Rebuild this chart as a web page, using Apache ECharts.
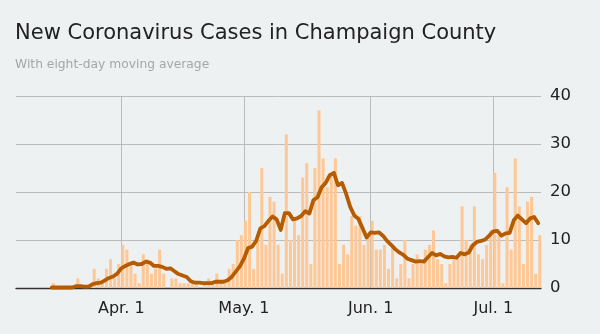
<!DOCTYPE html>
<html><head><meta charset="utf-8">
<script src="https://cdn.jsdelivr.net/npm/echarts@6/dist/echarts.min.js"></script>
<style>html,body{margin:0;padding:0;background:#eef1f2}#c{width:600px;height:334px}</style>
</head><body><div id="c"></div>
<script>
// Daily new cases, starting at firstDate (one value per day)
const firstDate = '2020-03-15';
const cases = [
  1,0,0,0,0,0,2,0,0,0,
  4,2,1,4,6,2,5,9,8,5,
  3,1,7,6,3,4,8,3,0,2,
  2,1,1,1,1,1,0,1,2,1,
  3,1,1,4,5,10,11,14,20,4,
  10,25,9,19,18,9,3,32,10,14,
  11,23,26,5,25,37,27,21,24,27,
  5,9,7,15,13,15,9,11,14,8,
  8,9,4,9,2,5,10,2,5,7,
  5,8,9,12,6,5,1,5,6,6,
  17,10,9,17,7,6,9,12,24,11,
  1,21,8,27,17,5,18,19,3,11
];
// Eight-day moving average
const movingAvg = [
  0.1,0.1,0.1,0.1,0.1,0.1,0.4,0.4,0.3,0.3,
  0.8,1.0,1.1,1.6,2.1,2.4,3.0,4.1,4.6,5.0,
  5.3,4.9,5.0,5.5,5.3,4.6,4.6,4.4,4.0,4.1,
  3.5,2.9,2.6,2.3,1.4,1.1,1.1,1.0,1.0,1.0,
  1.3,1.3,1.3,1.6,2.3,3.4,4.5,6.1,8.3,8.6,
  9.8,12.4,12.9,14.0,14.9,14.3,12.1,15.6,15.6,14.3,
  14.5,15.0,16.0,15.5,18.3,18.9,21.0,21.9,23.5,24.0,
  21.4,21.9,19.6,16.9,15.1,14.4,12.5,10.5,11.6,11.5,
  11.6,10.9,9.8,9.0,8.1,7.4,6.9,6.1,5.8,5.5,
  5.6,5.5,6.4,7.3,6.8,7.1,6.6,6.4,6.5,6.3,
  7.3,7.0,7.4,8.9,9.6,9.8,10.1,10.9,11.8,11.9,
  10.9,11.4,11.5,14.1,15.1,14.3,13.5,14.5,14.8,13.5
];
const tickDates = ['2020-04-01','2020-05-01','2020-06-01','2020-07-01'];
const tickLabels = ['Apr. 1','May. 1','Jun. 1','Jul. 1'];
const rangeDates = ['2020-03-06','2020-07-13'];

const DAY = 86400000;
const origin = Date.UTC(2020, 2, 1);
function dayIndex(s) { const p = s.split('-').map(Number); return (Date.UTC(p[0], p[1]-1, p[2]) - origin) / DAY; }
const start = dayIndex(firstDate);
const tickDays = tickDates.map(dayIndex);
const barData = cases.map((v, i) => [start + i + 0.37, v]);
const lineData = movingAvg.map((v, i) => [start + i, v]);

const FONT = 'DejaVu Sans';
const chart = echarts.init(document.getElementById('c'), null, {renderer: 'canvas'});
chart.setOption({
  backgroundColor: '#eef1f2',
  animation: false,
  title: [
    {text: 'New Coronavirus Cases in Champaign County', left: 15, top: 23, padding: 0,
     textStyle: {fontFamily: FONT, fontSize: 21, fontWeight: 'normal', color: '#222'}},
    {text: 'With eight-day moving average', left: 15, top: 59, padding: 0,
     textStyle: {fontFamily: FONT, fontSize: 12.3, fontWeight: 'normal', color: '#a6a6a6'}}
  ],
  grid: {left: 16, right: 59, top: 96, bottom: 46},
  xAxis: {
    type: 'value',
    min: dayIndex(rangeDates[0]) + 0.24,
    max: dayIndex(rangeDates[1]) - 0.33,
    axisLine: {show: true, onZero: true, lineStyle: {color: '#333', width: 1.3}},
    axisTick: {show: false, customValues: tickDays},
    axisLabel: {customValues: tickDays, margin: 13, fontFamily: FONT, fontSize: 16, color: '#222',
      formatter: v => tickLabels[tickDays.indexOf(v)] || ''},
    splitLine: {show: true, lineStyle: {color: '#bbbbbb', width: 1}}
  },
  yAxis: {
    type: 'value', position: 'right', min: 0, max: 40, interval: 10,
    axisLine: {show: false}, axisTick: {show: false},
    axisLabel: {margin: 9, fontFamily: FONT, fontSize: 16.5, color: '#222'},
    splitLine: {show: true, lineStyle: {color: '#bbbbbb', width: 1}}
  },
  series: [
    {type: 'bar', data: barData, barWidth: 3, itemStyle: {color: '#fdc896'}, z: 2},
    {type: 'line', data: lineData, showSymbol: false, symbol: 'none', z: 3,
     lineStyle: {color: '#b55c00', width: 3.8, join: 'round', cap: 'round'}}
  ]
});
</script></body></html>
